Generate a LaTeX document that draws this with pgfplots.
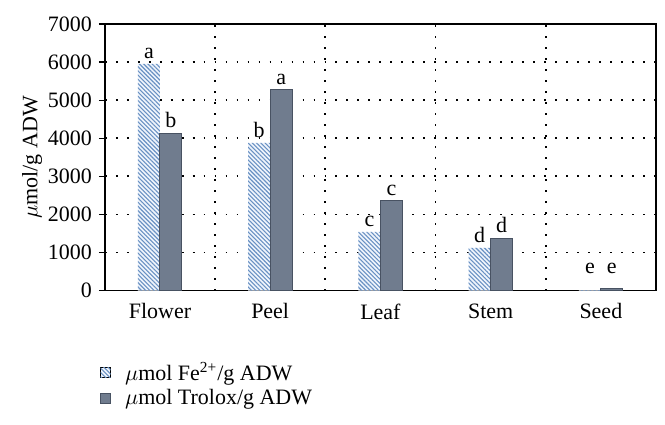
\documentclass[border=0pt]{standalone}
\usepackage{pgfplots}
\pgfplotsset{compat=1.18}
\usepackage{fontspec}
\setmainfont{Liberation Serif}
\usetikzlibrary{patterns.meta}
\definecolor{slate}{RGB}{112,124,142}
\definecolor{slatedark}{RGB}{72,82,98}
\definecolor{hatch}{RGB}{105,145,195}
\definecolor{hatchbg}{RGB}{240,245,252}
\begin{document}
\begin{tikzpicture}[font=\fontsize{11}{13}\selectfont]
\useasboundingbox (-52.5pt,-67pt) rectangle (280.5pt,145.5pt);
\begin{axis}[
  at={(0pt,0pt)}, anchor=south west,
  scale only axis, width=276pt, height=133.5pt,
  xmin=-0.5, xmax=4.5, ymin=0, ymax=7000,
  ytick={0,1000,...,7000},
  xtick={0,1,2,3,4}, xticklabels={Flower,Peel,Leaf,Stem,Seed},
  minor xtick={0.5,1.5,2.5,3.5},
  xminorgrids, ymajorgrids,
  grid style={black, line width=0.9pt, dash pattern=on 0.9pt off 4.6pt},
  minor grid style={black, line width=0.9pt, dash pattern=on 0.9pt off 4.6pt},
  x tick style={draw=none}, minor x tick style={draw=none},
  ytick pos=left, tick align=outside, major tick length=3pt,
  y tick style={black, line width=0.6pt},
  axis line style={black, line width=0.8pt},
  scaled y ticks=false,
  yticklabel style={/pgf/number format/.cd, 1000 sep={}, assume math mode=true},
  ylabel={$\mu$mol/g ADW},
  ylabel style={yshift=-4pt},
  ybar=0pt, bar width=11pt,
  legend style={at={(-0.02,-0.238)}, anchor=north west, draw=none, fill=none,
    row sep=-1pt, font=\fontsize{11}{13}\selectfont,
    /tikz/every odd column/.append style={column sep=5pt}},
  legend cell align=left,
  legend image code/.code={\draw[#1] (0pt,-2.4pt) rectangle (5pt,2.6pt);},
]
\addplot[bar shift=-5.5pt, draw=none, fill=hatchbg,
  postaction={pattern={Lines[angle=-45,distance=1.5pt,line width=0.55pt]}, pattern color=hatch}]
  coordinates {(0,5950) (1,3875) (2,1540) (3,1120) (4,10)};
\addlegendentry{$\mu$mol Fe\textsuperscript{2+}/g ADW}
\addplot[bar shift=5.5pt, draw=slatedark, line width=0.5pt, fill=slate]
  coordinates {(0,4130) (1,5275) (2,2355) (3,1365) (4,45)};
\addlegendentry{$\mu$mol Trolox/g ADW}
\addplot[forget plot, bar shift=-5.5pt, draw=none, fill=none,
  nodes near coords, point meta=explicit symbolic,
  every node near coord/.append style={text=black, font=\fontsize{11}{13}\selectfont, inner sep=2.5pt}]
  table[meta=l] {
x y l
0 5950 a
1 3875 b
2 1540 c
3 1120 d
4 300 e
};
\addplot[forget plot, bar shift=5.5pt, draw=none, fill=none,
  nodes near coords, point meta=explicit symbolic,
  every node near coord/.append style={text=black, font=\fontsize{11}{13}\selectfont, inner sep=2.5pt}]
  table[meta=l] {
x y l
0 4130 b
1 5275 a
2 2355 c
3 1365 d
4 300 e
};
\end{axis}
\end{tikzpicture}
\end{document}
